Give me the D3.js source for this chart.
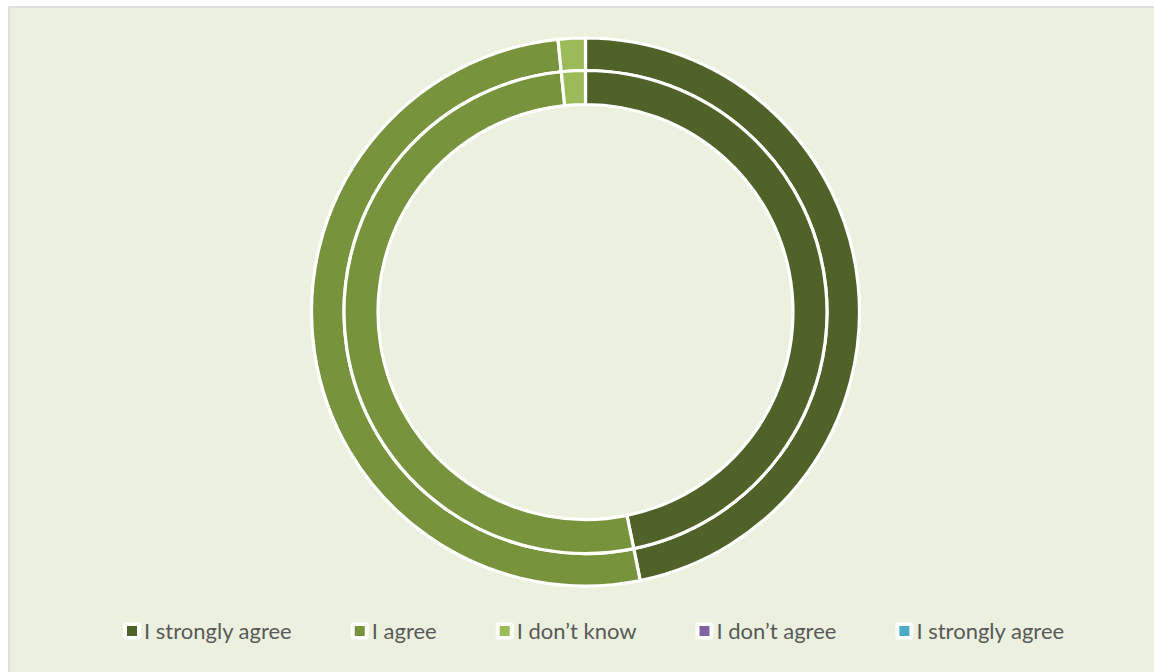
<!DOCTYPE html>
<html>
<head>
<meta charset="utf-8">
<script src="https://cdn.jsdelivr.net/npm/d3@7"></script>
<style>
  html, body { margin: 0; padding: 0; background: #ffffff; }
  svg { display: block; }
</style>
</head>
<body>
<svg id="chart" width="1154" height="672"></svg>
<script>
// Response categories and their shares (percent) for each ring
const categories = ["I strongly agree", "I agree", "I don\u2019t know", "I don\u2019t agree", "I strongly agree"];
const outerRing = [46.8, 51.6, 1.6, 0, 0];
const innerRing = [46.8, 51.6, 1.6, 0, 0];
const colors = ["#4f6228", "#77933c", "#9bbb59", "#8064a2", "#4bacc6"];

const svg = d3.select("#chart");
const W = 1154, H = 672;

// chart area background with thin border on top/left
svg.append("rect")
  .attr("x", 9).attr("y", 7)
  .attr("width", W - 9 + 2).attr("height", H - 7 + 2)
  .attr("fill", "#ebf1de")
  .attr("stroke", "#d9d9d9")
  .attr("stroke-width", 1.5);

const cx = 585.5, cy = 312;

const pie = d3.pie().sort(null).value(d => d);
const color = d3.scaleOrdinal().domain(d3.range(categories.length)).range(colors);

const rings = [
  { values: outerRing, outer: 274, inner: 241.5 },
  { values: innerRing, outer: 241.5, inner: 207.5 }
];

const g = svg.append("g").attr("transform", `translate(${cx},${cy})`);

rings.forEach(ring => {
  const arc = d3.arc().innerRadius(ring.inner).outerRadius(ring.outer);
  g.append("g").selectAll("path")
    .data(pie(ring.values).filter(d => d.data > 0))
    .join("path")
    .attr("d", arc)
    .attr("fill", d => color(d.index))
    .attr("stroke", "#ffffff")
    .attr("stroke-width", 3.2)
    .attr("stroke-linejoin", "miter");
});

// legend laid out in a single row
const legend = svg.append("g").attr("class", "legend");
const fontSize = 22;
const items = legend.selectAll("g.item")
  .data(categories)
  .join("g").attr("class", "item");

items.append("rect")
  .attr("x", -4).attr("y", -8.5)
  .attr("width", 18).attr("height", 17)
  .attr("rx", 3)
  .attr("fill", "#ffffff");
items.append("rect")
  .attr("x", 0).attr("y", -5)
  .attr("width", 10).attr("height", 10)
  .attr("fill", (d, i) => color(i));
items.append("text")
  .attr("x", 17).attr("y", 0)
  .attr("dy", "0.35em")
  .attr("font-family", "Lato, 'Open Sans', sans-serif")
  .attr("font-size", fontSize)
  .attr("fill", "#595959")
  .text(d => d);

const gap = 63;
let xpos = 127;
items.each(function() {
  const node = d3.select(this);
  const tw = node.select("text").node().getComputedTextLength();
  node.attr("transform", `translate(${xpos},631)`);
  xpos += 17 + tw + gap;
});
</script>
</body>
</html>
